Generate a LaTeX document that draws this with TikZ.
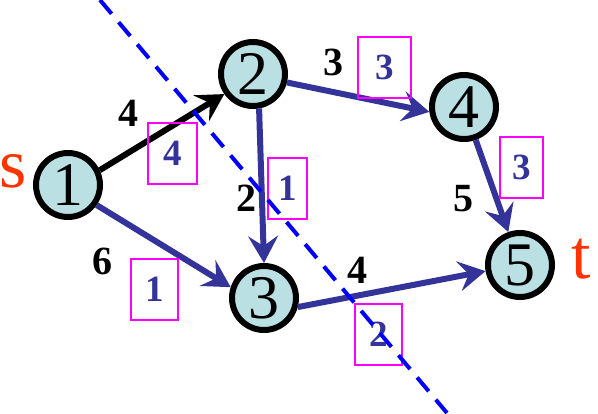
\documentclass[tikz,border=0pt]{standalone}
\usepackage{fontspec}
\setmainfont{Liberation Serif}
\usetikzlibrary{arrows.meta}
\definecolor{edgeblue}{RGB}{51,51,153}
\definecolor{nodefill}{RGB}{187,224,227}
\definecolor{stred}{RGB}{255,51,0}
\definecolor{cutblue}{RGB}{0,0,255}
\definecolor{boxpink}{RGB}{255,0,255}
\begin{document}
\begin{tikzpicture}[x=1pt,y=-1pt,
 vert/.style={circle,draw=black,line width=6pt,fill=nodefill,minimum size=64pt,inner sep=0pt,font=\fontsize{62}{62}\selectfont},
 wt/.style={font=\bfseries\fontsize{40}{40}\selectfont,inner sep=0pt},
 flow/.style={draw=boxpink,line width=1.3pt,font=\bfseries\fontsize{37}{37}\selectfont,text=edgeblue,minimum height=61pt,inner sep=0pt},
 arr/.style={line width=6pt,-{Stealth[length=27pt,width=30pt,inset=10pt]}},
 stlabel/.style={text=stred,font=\fontsize{70}{70}\selectfont,inner sep=0pt},
 cut/.style={draw=cutblue,line width=4pt,dash pattern=on 18pt off 11pt}]
\useasboundingbox (0,0) rectangle (598,413);
% vertices
\node[vert] (n1) at (68,185) {1};
\node[vert] (n2) at (253,74) {2};
\node[vert] (n3) at (264,298) {3};
\node[vert] (n4) at (464,107) {4};
\node[vert] (n5) at (520,265) {5};
% s and t
\node[stlabel] (s) at (13,171) {s};
\node[stlabel] (t) at (581,259) {t};
% edges
\draw[arr,draw=black,fill=black] (n1.25) -- (n2.215);
\draw[arr,draw=edgeblue,fill=edgeblue] (n1.-35) -- (n3.162);
\draw[arr,draw=edgeblue,fill=edgeblue] (n2.280) -- (n3.north);
\draw[arr,draw=edgeblue,fill=edgeblue] (n2.-14) -- (n4.188);
\draw[arr,draw=edgeblue,fill=edgeblue] (n4) -- (n5);
\draw[arr,draw=edgeblue,fill=edgeblue] (n3.-15) -- (n5.190);
% capacities
\node[wt] (c12) at (128,113) {4};
\node[wt] (c24) at (333,62) {3};
\node[wt] (c23) at (246,198) {2};
\node[wt] (c45) at (463,199) {5};
\node[wt] (c13) at (102,261) {6};
\node[wt] (c35) at (357,270) {4};
% flows
\node[flow,minimum width=49pt] (f12) at (172.5,153.5) {4};
\node[flow,minimum width=53pt] (f24) at (384.5,67.5) {3};
\node[flow,minimum width=39pt] (f23) at (287.5,188.5) {1};
\node[flow,minimum width=43pt] (f45) at (521.5,167.5) {3};
\node[flow,minimum width=47pt] (f13) at (154.5,289.5) {1};
\node[flow,minimum width=47pt] (f35) at (378.5,334.5) {2};
% cut line
\coordinate (cutA) at (100,0);
\coordinate (cutB) at (447,413);
\draw[cut] (cutA) -- (cutB);
\end{tikzpicture}
\end{document}
